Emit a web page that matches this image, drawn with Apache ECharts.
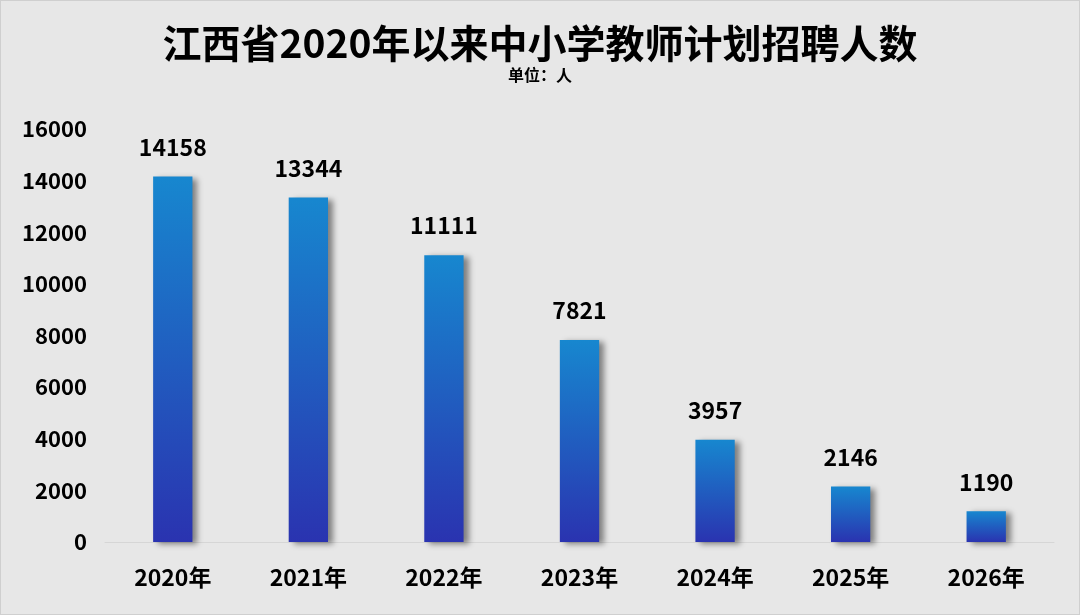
<!DOCTYPE html>
<html>
<head>
<meta charset="utf-8">
<script src="https://cdn.jsdelivr.net/npm/echarts@6/dist/echarts.min.js"></script>
<style>
html,body{margin:0;padding:0;background:#e7e7e7;}
#main{width:1078px;height:613px;border:1px solid #cfcfcf;}
</style>
</head>
<body>
<div id="main"></div>
<script>
// 江西省中小学教师计划招聘人数
var years = ['2020年', '2021年', '2022年', '2023年', '2024年', '2025年', '2026年'];
var counts = [14158, 13344, 11111, 7821, 3957, 2146, 1190];
var yTicks = [0, 2000, 4000, 6000, 8000, 10000, 12000, 14000, 16000];

var myChart = echarts.init(document.getElementById('main'));
var fontCn = '"Noto Sans CJK SC", sans-serif';

var option = {
	backgroundColor: '#e7e7e7',
	title: {
		text: '江西省2020年以来中小学教师计划招聘人数',
		subtext: '单位：人',
		left: 'center',
		top: 18,
		itemGap: 4,
		textStyle: {fontFamily: fontCn, fontSize: 39, fontWeight: 'bold', color: '#000'},
		subtextStyle: {fontFamily: fontCn, fontSize: 16, fontWeight: 'bold', color: '#000'}
	},
	grid: {left: 104, right: 25, top: 128, bottom: 72},
	xAxis: {
		type: 'category',
		data: years,
		axisTick: {show: false},
		axisLine: {lineStyle: {color: '#d6d6d6', width: 1}},
		axisLabel: {fontFamily: fontCn, fontSize: 23, fontWeight: 'bold', color: '#000', margin: 24}
	},
	yAxis: {
		type: 'value',
		min: yTicks[0],
		max: yTicks[yTicks.length - 1],
		interval: 2000,
		splitLine: {show: false},
		axisLine: {show: false},
		axisTick: {show: false},
		axisLabel: {
			fontFamily: fontCn, fontSize: 22, fontWeight: 'bold', color: '#000', margin: 18,
			formatter: function (v) { return String(v); }
		}
	},
	series: [{
		type: 'bar',
		data: counts,
		barWidth: '29%',
		itemStyle: {
			color: new echarts.graphic.LinearGradient(0, 0, 0, 1, [
				{offset: 0, color: '#1787cf'},
				{offset: 1, color: '#2a33b0'}
			]),
			shadowColor: 'rgba(0,0,0,0.45)',
			shadowBlur: 6,
			shadowOffsetX: 5,
			shadowOffsetY: 2
		},
		label: {
			show: true,
			position: 'top',
			distance: 18,
			fontFamily: fontCn,
			fontSize: 23,
			fontWeight: 'bold',
			color: '#000'
		}
	}]
};
myChart.setOption(option);
</script>
</body>
</html>
